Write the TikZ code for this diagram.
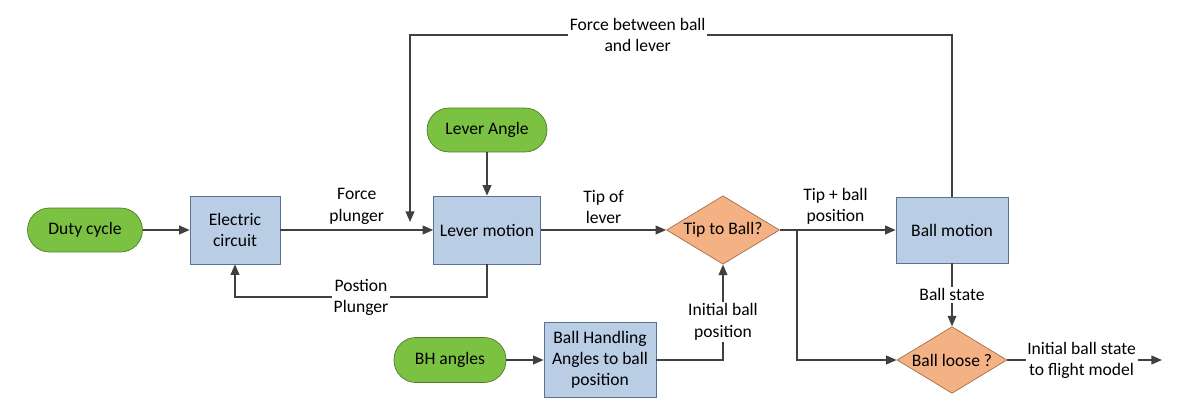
\documentclass[tikz,border=0pt]{standalone}
\usepackage{fontspec}
\setmainfont{Carlito}
\usetikzlibrary{shapes.geometric,arrows.meta}
\definecolor{bfill}{HTML}{B9CDE5}\definecolor{bdraw}{HTML}{5A7394}
\definecolor{gfill}{HTML}{7CC242}\definecolor{gdraw}{HTML}{4E7A2A}
\definecolor{ofill}{HTML}{F4B183}\definecolor{odraw}{HTML}{A07050}
\definecolor{ln}{HTML}{404040}
\begin{document}
\begin{tikzpicture}[x=0.02cm,y=-0.02cm,font=\fontsize{10}{12}\selectfont,
 box/.style={draw=bdraw,fill=bfill,minimum width=2.2cm,minimum height=1.36cm,align=center,inner sep=1pt},
 pill/.style={draw=gdraw,fill=gfill,rounded corners=0.44cm,minimum width=2.3cm,minimum height=0.88cm},
 dia/.style={diamond,aspect=1.65,draw=odraw,fill=ofill,inner sep=1pt,minimum width=2.2cm,minimum height=1.34cm},
 ar/.style={draw=ln,line width=0.8pt,-{Triangle[length=6pt,width=5pt]}},
 li/.style={draw=ln,line width=0.8pt},
 lab/.style={fill=white,align=center,inner sep=1pt}]
\useasboundingbox (0,0) rectangle (1195,415);
\node[pill] (duty) at (85,230) {Duty cycle};
\node[box,minimum width=1.8cm] (ec) at (235,230) {Electric\\circuit};
\node[box,minimum width=2.14cm] (lm) at (487,230) {Lever motion};
\node[pill,minimum width=2.4cm] (la) at (487,130) {Lever Angle};
\node[dia] (tip) at (723,230) {Tip to Ball?};
\node[box,minimum width=2.24cm,minimum height=1.32cm] (bm) at (952,230) {Ball motion};
\node[dia,minimum width=2.2cm,minimum height=1.3cm] (bl) at (952,360) {Ball loose ?};
\node[pill,minimum width=2.24cm,minimum height=0.9cm] (bh) at (450,360) {BH angles};
\node[box,minimum width=2.24cm,minimum height=1.5cm] (bha) at (600,360) {Ball Handling\\Angles to ball\\position};
\coordinate (out) at (1162,360);
\coordinate (br) at (797,230);
\draw[ar] (duty) -- (ec);
\draw[ar] (ec) -- node[lab,above=2pt,fill=none]{Force\\plunger} (lm);
\draw[ar] (lm.south) |- (235,297) node[lab,pos=0.75]{Postion\\Plunger} -- (ec.south);
\draw[ar] (la) -- (lm);
\draw[ar] (lm) -- node[lab,above=2pt,fill=none]{Tip of\\lever} (tip);
\draw[ar] (tip) -- node[lab,above=2pt,fill=none,pos=0.48]{Tip + ball\\position} (bm);
\draw[ar] (bm.north) |- (410,35) node[lab,pos=0.79]{Force between ball\\and lever} -- (410,222);
\draw[ar] (bm) -- node[lab]{Ball state} (bl);
\draw[ar] (br) |- (bl.west);
\draw[ar] (bh) -- (bha);
\draw[ar] (bha.east) -| node[lab,pos=0.7]{Initial ball\\position} (tip.south);
\draw[ar] (bl.east) -- node[lab,pos=0.48]{Initial ball state\\to flight model} (out);
\end{tikzpicture}
\end{document}
